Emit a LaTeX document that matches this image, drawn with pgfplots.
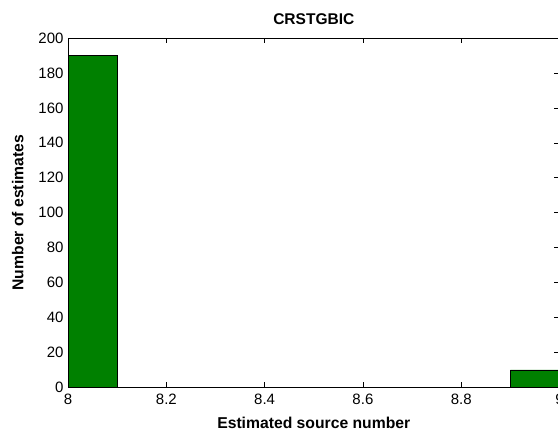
\documentclass[border=0pt]{standalone}
\usepackage{pgfplots}
\pgfplotsset{compat=1.18}
\usepackage{fontspec}
\setmainfont{Liberation Sans}
\definecolor{mgreen}{RGB}{0,128,0}
\begin{document}
\begin{tikzpicture}
\begin{axis}[
  scale only axis,
  width=491pt, height=349pt,
  xmin=8, xmax=9, ymin=0, ymax=200,
  xtick={8,8.2,8.4,8.6,8.8,9},
  ytick={0,20,...,200},
  xticklabels={8,8.2,8.4,8.6,8.8,9},
  tick align=inside,
  major tick length=5pt,
  tick style={black, line width=0.6pt},
  axis line style={line width=0.9pt},
  /pgf/number format/assume math mode=true,
  tick label style={font=\fontsize{15}{16}\selectfont},
  label style={font=\bfseries\fontsize{15.7}{17}\selectfont},
  title style={font=\bfseries\fontsize{15.5}{17}\selectfont, yshift=4pt},
  title={CRSTGBIC},
  xlabel={Estimated source number},
  ylabel={Number of estimates},
  xlabel style={yshift=-6pt},
  ylabel style={yshift=8pt},
  yticklabel style={xshift=-1pt},
  xticklabel style={yshift=-3pt},
]
\addplot[ybar interval, fill=mgreen, draw=black, line width=0.6pt] coordinates {
  (8,190) (8.1,0) (8.2,0) (8.3,0) (8.4,0) (8.5,0) (8.6,0) (8.7,0) (8.8,0) (8.9,10) (9,10)
};
\end{axis}
\pgfresetboundingbox
\path ([xshift=-68pt, yshift=-44pt]current axis.south west) rectangle ([xshift=-1.5pt, yshift=38pt]current axis.north east);
\end{tikzpicture}
\end{document}
